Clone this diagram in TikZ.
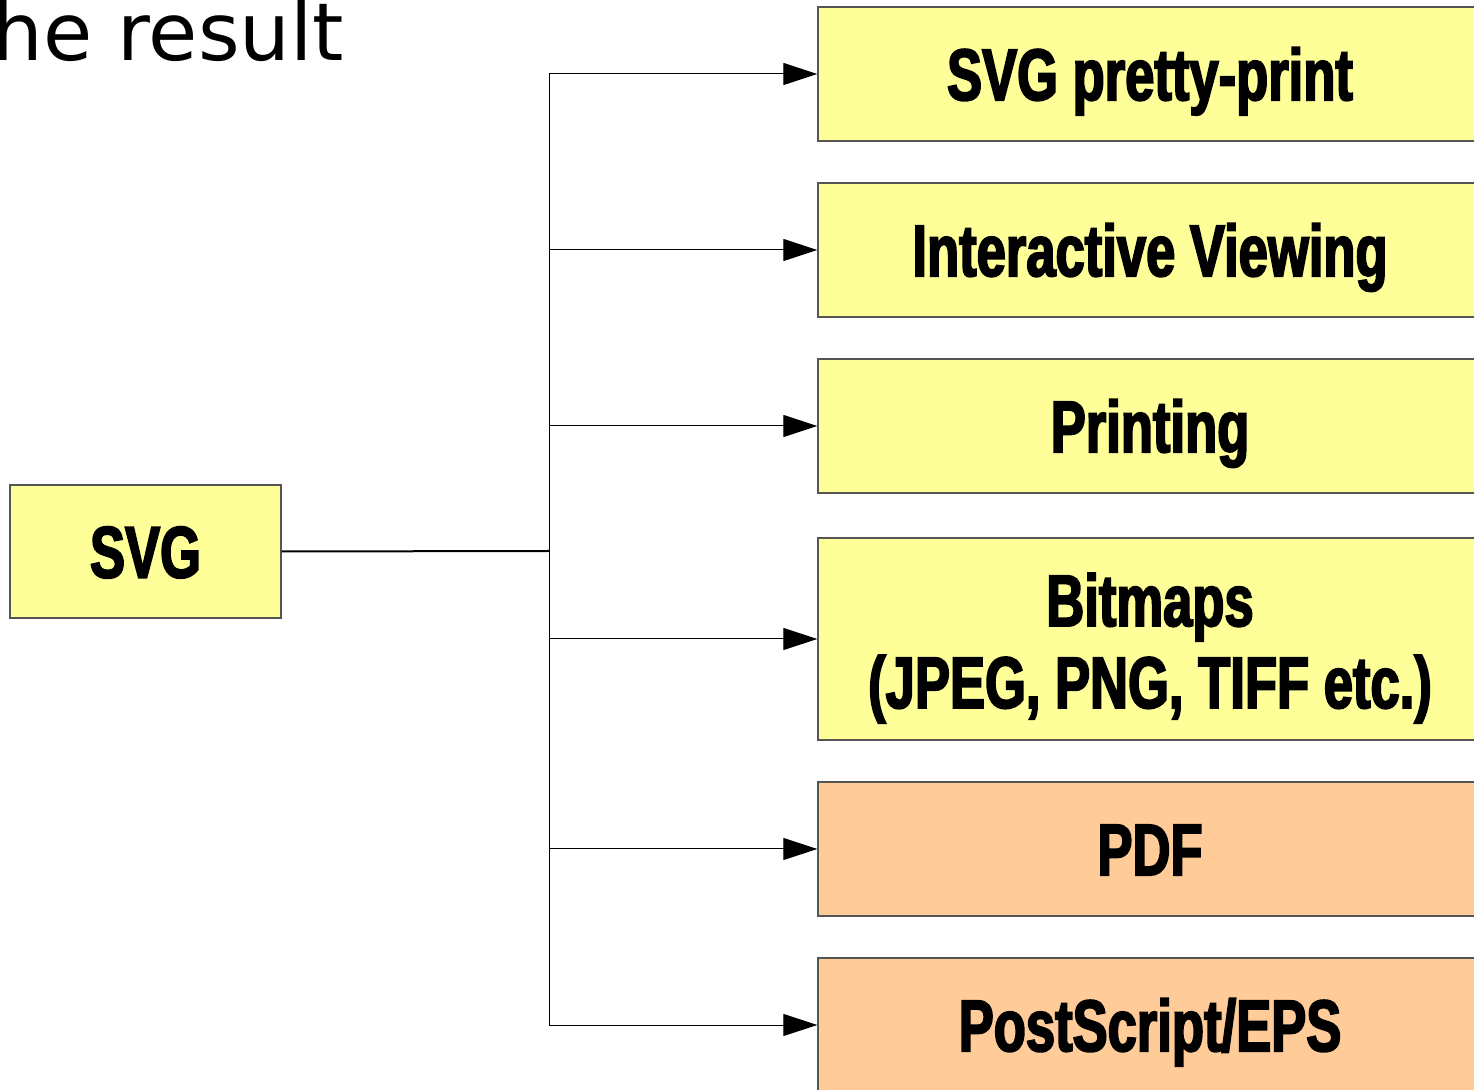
\documentclass[tikz,border=0pt]{standalone}
\usepackage{fontspec}
\usetikzlibrary{arrows.meta}
\newfontfamily\titlefont{DejaVu Sans}
\newfontfamily\boxfont[FakeStretch=0.72,FakeBold=2.5]{Liberation Sans Bold}
\definecolor{ylw}{HTML}{FFFF99}
\definecolor{org}{HTML}{FFCC99}
\definecolor{bord}{HTML}{555555}
\begin{document}
\begin{tikzpicture}[x=0.5pt,y=-0.5pt,
  box/.style={draw=bord,line width=0.7pt,fill=ylw,inner sep=0pt,align=center,
    font=\boxfont\fontsize{36.5}{41}\selectfont,minimum width=332pt,minimum height=67pt,
    text height=26.1pt,text depth=0pt},
  obox/.style={box,fill=org},
  conn/.style={line width=0.5pt,black},
  arr/.style={conn,-{Triangle[length=17pt,width=11pt]}}]
\useasboundingbox (0,0) rectangle (1474,1090);
\clip (0,0) rectangle (1474,1090);
\node[anchor=base west,inner sep=0pt,font=\titlefont\fontsize{40}{48}\selectfont] (title) at (-8,61) {he result};
\node[box,minimum width=135.5pt,minimum height=66.5pt] (svg) at (145.5,551.5) {SVG};
\node[box] (b1) at (1150,74) {SVG pretty-print};
\node[box] (b2) at (1150,250) {Interactive Viewing};
\node[box] (b3) at (1150,426) {Printing};
\node[box,minimum height=101pt,text height=69pt,text depth=0pt] (b4) at (1150,639) {Bitmaps\\(JPEG, PNG, TIFF etc.)};
\node[obox] (b5) at (1150,849) {PDF};
\node[obox] (b6) at (1150,1025) {PostScript/EPS};
\coordinate (j) at (549,551);
\draw[line width=1pt] (svg.east) -- (j);
\draw[conn] (j |- b1.west) -- (j |- b6.west);
\foreach \b in {b1,b2,b3,b4,b5,b6} \draw[arr] (j |- \b.west) -- (\b.west);
\end{tikzpicture}
\end{document}
